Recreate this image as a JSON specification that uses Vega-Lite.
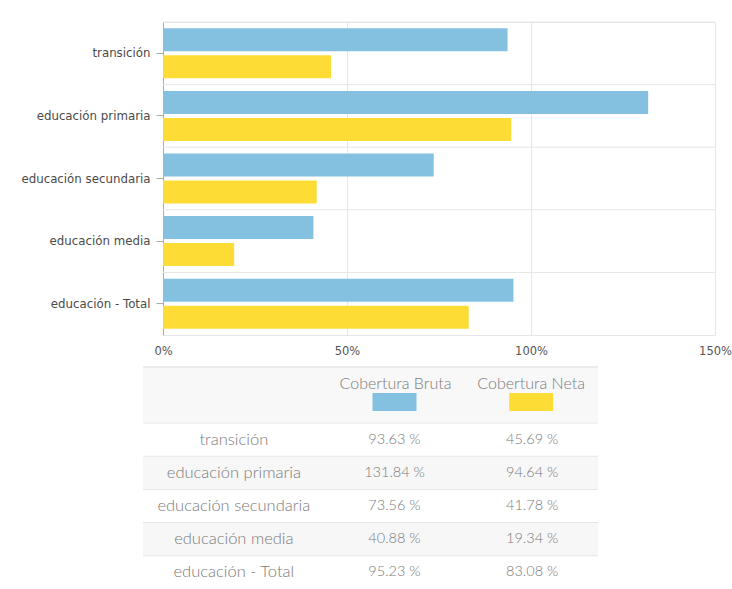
{
  "$schema": "https://vega.github.io/schema/vega-lite/v6.json",
  "width": 552,
  "height": 313,
  "autosize": {"type": "none"},
  "padding": {"left": 163, "top": 22, "right": 17, "bottom": 254},
  "background": "white",
  "datasets": {
    "cobertura": [
      {"nivel": "transición", "Cobertura Bruta": 93.63, "Cobertura Neta": 45.69},
      {"nivel": "educación primaria", "Cobertura Bruta": 131.84, "Cobertura Neta": 94.64},
      {"nivel": "educación secundaria", "Cobertura Bruta": 73.56, "Cobertura Neta": 41.78},
      {"nivel": "educación media", "Cobertura Bruta": 40.88, "Cobertura Neta": 19.34},
      {"nivel": "educación - Total", "Cobertura Bruta": 95.23, "Cobertura Neta": 83.08}
    ],
    "encabezado": [
      {"col": "bruta", "titulo": "Cobertura Bruta"},
      {"col": "neta", "titulo": "Cobertura Neta"}
    ]
  },
  "data": {"name": "cobertura"},
  "config": {
    "view": {"stroke": "#e6e6e6"},
    "axis": {"labelFont": "DejaVu Sans", "labelFontSize": 11}
  },
  "resolve": {"scale": {"x": "independent", "y": "independent"}},
  "layer": [
    {
      "layer": [
        {
          "mark": {"type": "rule", "color": "#e6e6e6"},
          "encoding": {
            "y": {"field": "nivel", "type": "nominal", "sort": null, "bandPosition": 0,
                  "scale": {"paddingInner": 0, "paddingOuter": 0}}
          }
        },
        {
          "transform": [{"fold": ["Cobertura Bruta", "Cobertura Neta"], "as": ["serie", "valor"]}],
          "mark": {"type": "bar"},
          "encoding": {
            "y": {"field": "nivel", "type": "nominal", "sort": null,
                  "scale": {"paddingInner": 0, "paddingOuter": 0},
                  "axis": {"title": null, "labelColor": "#4a4a4a", "labelFont": "DejaVu Sans", "labelFontSize": 11.8,
                           "tickColor": "#aaa", "tickSize": 7,
                           "domainColor": "#aaa", "labelPadding": 6, "grid": false, "bandPosition": 0.5}},
            "yOffset": {"field": "serie", "type": "nominal", "sort": null,
                        "scale": {"paddingInner": 0.148, "paddingOuter": 0.233}},
            "x": {"field": "valor", "type": "quantitative",
                  "scale": {"domain": [0, 150], "nice": false},
                  "axis": {"values": [0, 50, 100, 150], "labelExpr": "datum.value + '%'", "title": null,
                           "grid": true, "gridColor": "#e6e6e6", "ticks": false, "domain": false,
                           "labelFont": "DejaVu Sans", "labelFontSize": 11.5,
                           "labelPadding": 10, "labelColor": "#555", "labelFlush": false}},
            "color": {"field": "serie", "type": "nominal",
                      "scale": {"domain": ["Cobertura Bruta", "Cobertura Neta"], "range": ["#84c1e1", "#fddc35"]},
                      "legend": null}
          }
        }
      ]
    },
    {
      "layer": [
        {
          "data": {"name": "encabezado"},
          "mark": {"type": "tick", "orient": "horizontal", "size": 455, "thickness": 55, "color": "#f8f8f8", "opacity": 1, "yOffset": -45.1},
          "encoding": {
            "x": {"datum": "bruta", "type": "nominal", "axis": null,
                  "scale": {"type": "band", "domain": ["nivel", "bruta", "neta"], "range": [-20, 435], "paddingInner": 0, "paddingOuter": 0}},
            "y": {"datum": "transición", "type": "nominal", "axis": null,
                  "scale": {"type": "band", "domain": ["transición", "educación primaria", "educación secundaria", "educación media", "educación - Total"], "range": [401, 567], "paddingInner": 0, "paddingOuter": 0}}
          }
        },
        {
          "data": {"name": "encabezado"},
          "mark": {"type": "tick", "orient": "horizontal", "size": 455, "thickness": 1, "color": "#e6e6e6", "opacity": 1, "yOffset": -72.6},
          "encoding": {
            "x": {"datum": "bruta", "type": "nominal", "axis": null},
            "y": {"datum": "transición", "type": "nominal", "axis": null}
          }
        },
        {
          "transform": [{"filter": {"field": "nivel", "oneOf": ["educación primaria", "educación media"]}}],
          "mark": {"type": "tick", "orient": "horizontal", "size": 455, "thickness": 33.2, "color": "#f7f7f7", "opacity": 1},
          "encoding": {
            "x": {"datum": "bruta", "type": "nominal", "axis": null},
            "y": {"field": "nivel", "type": "nominal", "axis": null}
          }
        },
        {
          "mark": {"type": "tick", "orient": "horizontal", "size": 455, "thickness": 1, "color": "#e6e6e6", "opacity": 1},
          "encoding": {
            "x": {"datum": "bruta", "type": "nominal", "axis": null},
            "y": {"field": "nivel", "type": "nominal", "axis": null, "bandPosition": 0}
          }
        },
        {
          "mark": {"type": "text", "font": "Lato", "fontWeight": 300, "fontSize": 16.5, "color": "#7a7a7a", "xOffset": 15},
          "encoding": {
            "x": {"datum": "nivel", "type": "nominal", "axis": null},
            "y": {"field": "nivel", "type": "nominal", "axis": null},
            "text": {"field": "nivel"}
          }
        },
        {
          "mark": {"type": "text", "font": "Lato", "fontWeight": 300, "fontSize": 14.5, "color": "#7a7a7a", "xOffset": 24,
                   "text": {"expr": "format(datum['Cobertura Bruta'], '.2f') + ' %'"}},
          "encoding": {
            "x": {"datum": "bruta", "type": "nominal", "axis": null},
            "y": {"field": "nivel", "type": "nominal", "axis": null}
          }
        },
        {
          "mark": {"type": "text", "font": "Lato", "fontWeight": 300, "fontSize": 14.5, "color": "#7a7a7a", "xOffset": 10,
                   "text": {"expr": "format(datum['Cobertura Neta'], '.2f') + ' %'"}},
          "encoding": {
            "x": {"datum": "neta", "type": "nominal", "axis": null},
            "y": {"field": "nivel", "type": "nominal", "axis": null}
          }
        },
        {
          "data": {"name": "encabezado"},
          "transform": [{"filter": "datum.col == 'bruta'"}],
          "mark": {"type": "text", "font": "Lato", "fontWeight": 300, "fontSize": 16, "color": "#7a7a7a", "xOffset": 25, "yOffset": -55.6},
          "encoding": {
            "x": {"field": "col", "type": "nominal", "axis": null},
            "y": {"datum": "transición", "type": "nominal", "axis": null},
            "text": {"field": "titulo"}
          }
        },
        {
          "data": {"name": "encabezado"},
          "transform": [{"filter": "datum.col == 'neta'"}],
          "mark": {"type": "text", "font": "Lato", "fontWeight": 300, "fontSize": 16, "color": "#7a7a7a", "xOffset": 9, "yOffset": -55.6},
          "encoding": {
            "x": {"field": "col", "type": "nominal", "axis": null},
            "y": {"datum": "transición", "type": "nominal", "axis": null},
            "text": {"field": "titulo"}
          }
        },
        {
          "data": {"name": "encabezado"},
          "transform": [{"filter": "datum.col == 'bruta'"}],
          "mark": {"type": "point", "shape": "M-1,-0.409L1,-0.409L1,0.409L-1,0.409Z", "size": 1936, "filled": true, "opacity": 1, "xOffset": 24, "yOffset": -37.6},
          "encoding": {
            "x": {"field": "col", "type": "nominal", "axis": null},
            "y": {"datum": "transición", "type": "nominal", "axis": null},
            "color": {"field": "titulo", "type": "nominal", "legend": null}
          }
        },
        {
          "data": {"name": "encabezado"},
          "transform": [{"filter": "datum.col == 'neta'"}],
          "mark": {"type": "point", "shape": "M-1,-0.409L1,-0.409L1,0.409L-1,0.409Z", "size": 1936, "filled": true, "opacity": 1, "xOffset": 9, "yOffset": -37.6},
          "encoding": {
            "x": {"field": "col", "type": "nominal", "axis": null},
            "y": {"datum": "transición", "type": "nominal", "axis": null},
            "color": {"field": "titulo", "type": "nominal", "legend": null}
          }
        }
      ]
    }
  ]
}
